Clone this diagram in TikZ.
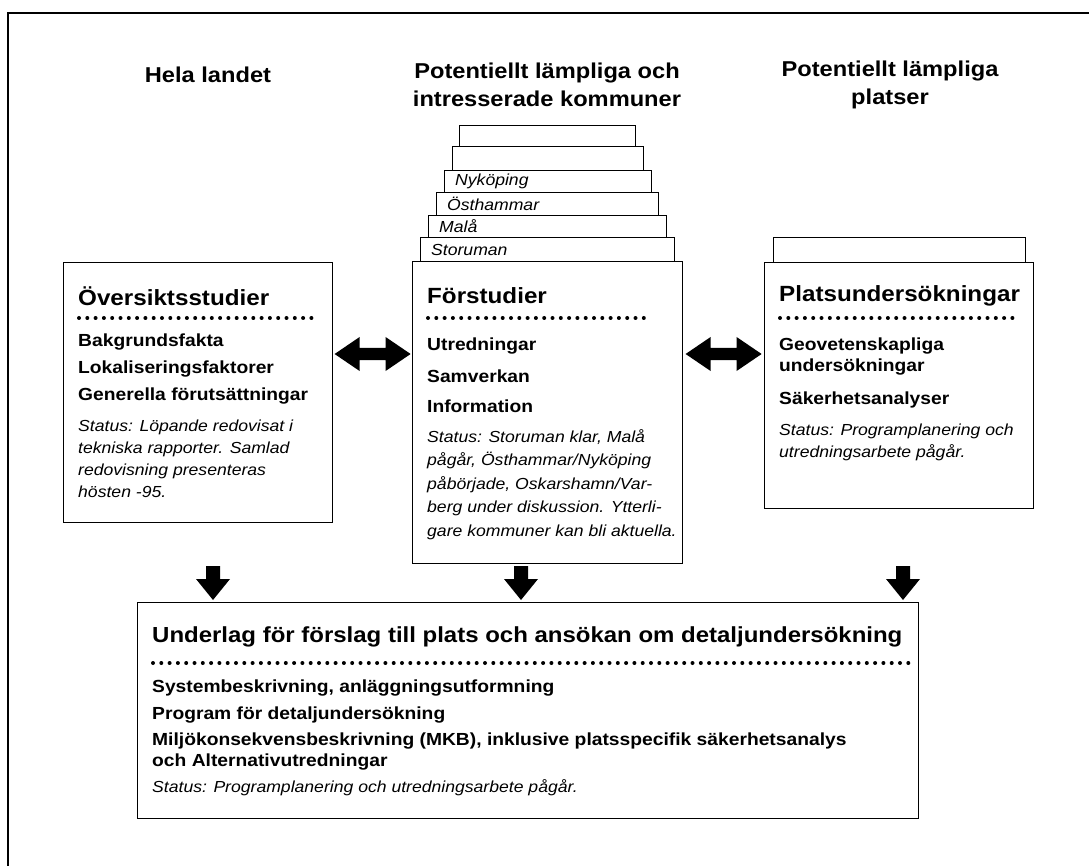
\documentclass[tikz,border=0pt]{standalone}
\usepackage{fontspec}
\setmainfont{Liberation Sans}[FakeStretch=1.1]
\usetikzlibrary{calc}
\tikzset{
  box/.style={draw, line width=1.2pt, fill=white, inner sep=0pt, anchor=north west},
  hdr/.style={font=\bfseries\fontsize{21.5}{28}\selectfont, align=center, inner sep=0pt},
  ttl/.style={font=\bfseries\fontsize{22}{25}\selectfont, anchor=west, inner sep=0pt},
  itm/.style={font=\bfseries\fontsize{17.5}{21}\selectfont, anchor=west, inner sep=0pt, align=left},
  sts/.style={font=\itshape\fontsize{16}{22}\selectfont, anchor=north west, inner sep=0pt, align=left},
  stk/.style={font=\itshape\fontsize{16}{17}\selectfont, anchor=west, inner sep=0pt},
  dots/.style={line width=4pt, line cap=round, dash pattern=on 0pt off 8.3pt},
  blk/.style={fill=black, draw=none}
}
\begin{document}
\begin{tikzpicture}[x=1pt,y=-1pt]
\useasboundingbox (0,0) rectangle (1089,866);
\draw[line width=2.5pt] (8,866) -- (8,13) -- (1089,13);

% headers
\node[hdr] (h1) at (208,75) {Hela landet};
\node[hdr] (h2) at (547,85) {Potentiellt lämpliga och\\intresserade kommuner};
\node[hdr] (h3) at (890,85) {Potentiellt lämpliga\\platser};

% stack of municipality tabs
\node[box, minimum width=176pt, minimum height=21pt] (s6) at (459,125) {};
\node[box, minimum width=191pt, minimum height=24pt] (s5) at (452,146) {};
\node[box, minimum width=207pt, minimum height=22pt] (s4) at (444,170) {};
\node[box, minimum width=222pt, minimum height=23pt] (s3) at (436,192) {};
\node[box, minimum width=238pt, minimum height=22pt] (s2) at (428,215) {};
\node[box, minimum width=254pt, minimum height=24pt] (s1) at (420,237) {};
\node[stk] (n4) at (455,181.5) {Nyköping};
\node[stk] (n3) at (447,204) {Östhammar};
\node[stk] (n2) at (439,226.5) {Malå};
\node[stk] (n1) at (431,249.5) {Storuman};

% right tab
\node[box, minimum width=252pt, minimum height=25pt] (rt) at (773,237) {};

% main boxes
\node[box, minimum width=269pt, minimum height=260pt] (L) at (63,262) {};
\node[box, minimum width=270pt, minimum height=302pt] (M) at (412,261) {};
\node[box, minimum width=269pt, minimum height=246pt] (R) at (764,262) {};
\node[box, minimum width=781pt, minimum height=216pt] (B) at (137,602) {};

% left box content
\node[ttl] (Lt) at (78,296) {Översiktsstudier};
\draw[dots] (79,318) -- (318,318);
\node[itm] (L1) at (78,342) {Bakgrundsfakta};
\node[itm] (L2) at (78,369) {Lokaliseringsfaktorer};
\node[itm] (L3) at (78,396) {Generella förutsättningar};
\node[sts] (Ls) at (78,420) {Status: Löpande redovisat i\\tekniska rapporter. Samlad\\redovisning presenteras\\hösten -95.};

% middle box content
\node[ttl] (Mt) at (427,296) {Förstudier};
\draw[dots] (428,318) -- (650,318);
\node[itm] (M1) at (427,346) {Utredningar};
\node[itm] (M2) at (427,376) {Samverkan};
\node[itm] (M3) at (427,406) {Information};
\node[sts, font=\itshape\fontsize{16}{23.5}\selectfont] (Ms) at (427,429) {Status: Storuman klar, Malå\\pågår, Östhammar/Nyköping\\påbörjade, Oskarshamn/Var-\\berg under diskussion. Ytterli-\\gare kommuner kan bli aktuella.};

% right box content
\node[ttl] (Rt) at (779,296) {Platsundersökningar};
\draw[dots] (780,318) -- (1020,318);
\node[itm] (R1) at (779,357) {Geovetenskapliga\\undersökningar};
\node[itm] (R2) at (779,400) {Säkerhetsanalyser};
\node[sts] (Rs) at (779,424) {Status: Programplanering och\\utredningsarbete pågår.};

% bottom box content
\node[ttl, font=\bfseries\fontsize{21.8}{25}\selectfont] (Bt) at (152,637) {Underlag för förslag till plats och ansökan om detaljundersökning};
\draw[dots] (153,663) -- (916,663);
\node[itm] (B1) at (152,688) {Systembeskrivning, anläggningsutformning};
\node[itm] (B2) at (152,715) {Program för detaljundersökning};
\node[itm] (B3) at (152,752) {Miljökonsekvensbeskrivning (MKB), inklusive platsspecifik säkerhetsanalys\\och Alternativutredningar};
\node[sts] (Bs) at (152,779) {Status: Programplanering och utredningsarbete pågår.};

% double arrows between boxes
\coordinate (da1) at ($(L.east |- 0,354)!0.5!(M.west |- 0,354)$);
\coordinate (da2) at ($(M.east |- 0,354)!0.5!(R.west |- 0,354)$);
\foreach \c in {da1,da2}{
  \fill[blk] ($(\c)+(-38,0)$) -- ++(25,-17) -- ++(0,11) -- ++(26,0) -- ++(0,-11)
     -- ++(25,17) -- ++(-25,17) -- ++(0,-11) -- ++(-26,0) -- ++(0,11) -- cycle;
}
% down arrows to bottom box
\coordinate (a1) at (213,566);
\coordinate (a2) at (521,566);
\coordinate (a3) at (903,566);
\foreach \c in {a1,a2,a3}{
  \fill[blk] ($(\c)+(-7,0)$) -- ++(14,0) -- ++(0,13) -- ++(10,0) -- ++(-17,21)
     -- ++(-17,-21) -- ++(10,0) -- cycle;
}
\end{tikzpicture}
\end{document}
